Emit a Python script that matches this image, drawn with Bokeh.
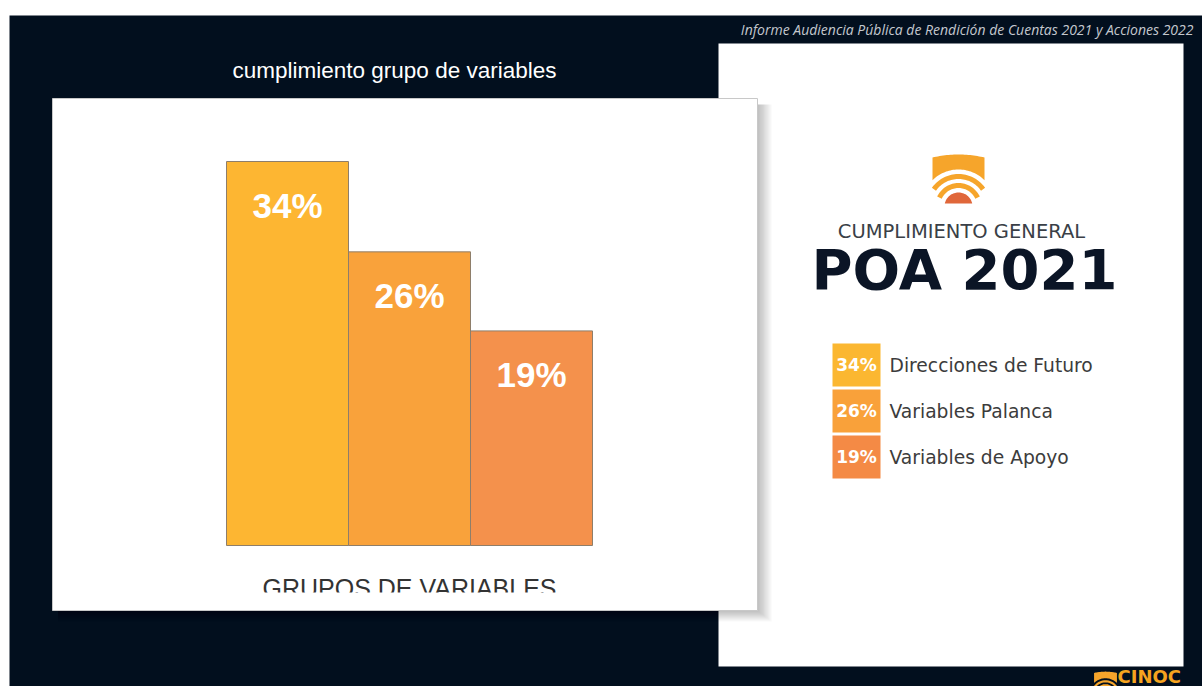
import numpy as np
from bokeh.plotting import figure
from bokeh.models import Range1d
from bokeh.core.properties import value
from bokeh.embed import file_html
from bokeh.resources import INLINE

# ---------------- data ----------------
categories = ["Direcciones de Futuro", "Variables Palanca", "Variables de Apoyo"]
values = [34, 26, 19]
bar_colors = ["#FDB632", "#F9A23B", "#F4914C"]
legend_colors = ["#FBB731", "#F9A13A", "#F48A45"]
title_text = "cumplimiento grupo de variables"
xaxis_label = "GRUPOS DE VARIABLES"
header_text = "Informe Audiencia Pública de Rendición de Cuentas 2021 y Acciones 2022"
subtitle = "CUMPLIMIENTO GENERAL"
big_title = "POA 2021"
brand = "CINOC"
pct_labels = [f"{v}%" for v in values]

# ---------------- layout (page pixels) ----------------
W, H = 1202, 686
X0, Y0 = 0, 0
DARK = "#020F1E"
BAR_LEFT, BAR_W = 226, 122
BASE_Y, PX_PER_PCT = 545, 384 / 34

p = figure(width=W, height=H, output_backend="svg", toolbar_location=None,
           x_range=Range1d(X0, X0 + W), y_range=Range1d(Y0 + H, Y0),
           x_axis_type=None, y_axis_type=None, min_border=0,
           background_fill_color="white", border_fill_color="white",
           outline_line_color=None)
p.xgrid.visible = False
p.ygrid.visible = False

p.extra_x_ranges = {"bx": Range1d((X0 - BAR_LEFT) / BAR_W, (X0 + W - BAR_LEFT) / BAR_W)}
p.extra_y_ranges = {"by": Range1d((BASE_Y - (Y0 + H)) / PX_PER_PCT, (BASE_Y - Y0) / PX_PER_PCT)}

# dark slide background
p.quad(left=[9], right=[X0 + W], top=[15], bottom=[Y0 + H], fill_color=DARK, line_color=None)

# header
p.text(x=[1193], y=[29], text=[header_text], text_align="right", text_baseline="middle",
       text_font=value("Open Sans"), text_font_style="italic", text_font_size="14px",
       text_color="#C4C8CE")

# right white panel
p.quad(left=[718], right=[1183], top=[43], bottom=[666], fill_color="white", line_color=None)

# card shadow
for k in range(12):
    p.quad(left=[58], right=[757 + 1.3 * k], top=[104], bottom=[610 + 1.0 * k],
           fill_color="black", fill_alpha=0.022, line_color=None)

# card
p.quad(left=[52], right=[757], top=[98], bottom=[610], fill_color="white",
       line_color="#C8C8C8", line_width=1)

# card title
p.text(x=[394], y=[70], text=[title_text], text_align="center", text_baseline="middle",
       text_font=value("Liberation Sans"), text_font_size="22.5px", text_color="white")

# bars
xs = [i + 0.5 for i in range(len(values))]
p.vbar(x=xs, width=1, bottom=0, top=values, x_range_name="bx", y_range_name="by",
       fill_color=bar_colors, line_color="#8E7E6A", line_width=1)
p.text(x=xs, y=values, text=pct_labels, x_range_name="bx", y_range_name="by",
       y_offset=44, text_align="center", text_baseline="middle",
       text_font=value("Liberation Sans"), text_font_style="bold",
       text_font_size="35px", text_color="white")

# axis label (clipped at bottom like in the reference)
p.text(x=[409], y=[587], text=[xaxis_label], text_align="center", text_baseline="middle",
       text_font=value("Liberation Sans"), text_font_size="25px", text_color="#333333")
p.quad(left=[53], right=[756], top=[592], bottom=[609], fill_color="white", line_color=None)


# ---------------- shield logo ----------------
def polar(cx, cy, r, t):
    return cx + r * np.cos(t), cy - r * np.sin(t)


def logo_shapes(cx, cy, s):
    shapes = []
    r = 14 * s
    t0 = np.arcsin(3 / 14)
    t = np.linspace(t0, np.pi - t0, 40)
    x, y = polar(cx, cy, r, t)
    shapes.append((list(x), list(y), "#E0673A"))
    for ri, ro, a1, a2 in [(18.5, 23.5, 25, 155), (27.5, 32.5, 35, 145)]:
        t = np.linspace(np.radians(a1), np.radians(a2), 40)
        xo, yo = polar(cx, cy, ro * s, t)
        xi, yi = polar(cx, cy, ri * s, t[::-1])
        shapes.append((list(xo) + list(xi), list(yo) + list(yi), "#F6A52B"))
    half = 26 * s
    rb = 37 * s
    yside = cy - np.sqrt(rb ** 2 - half ** 2)
    tt = np.linspace(-1, 1, 30)
    xt = cx + half * tt
    yt = cy - 52 * s + 3 * s * tt ** 2
    ta = np.arccos(half / rb)
    ts = np.linspace(ta, np.pi - ta, 40)
    xa, ya = polar(cx, cy, rb, ts)
    bx = list(xt) + [cx + half] + list(xa) + [cx - half]
    by = list(yt) + [yside] + list(ya) + [yside]
    shapes.append((bx, by, "#F6A52B"))
    return shapes


for sx, sy, c in logo_shapes(958, 206, 1.0):
    p.patch(x=sx, y=sy, fill_color=c, line_color=None)

p.text(x=[961], y=[231], text=[subtitle], text_align="center", text_baseline="middle",
       text_font=value("DejaVu Sans"), text_font_size="19.5px", text_color="#3A3F47")
p.text(x=[964], y=[269], text=[big_title], text_align="center", text_baseline="middle",
       text_font=value("DejaVu Sans"), text_font_style="bold", text_font_size="56px",
       text_color="#0B1526")

# legend
for i, (lab, name, col) in enumerate(zip(pct_labels, categories, legend_colors)):
    top = 343 + 46 * i
    p.quad(left=[832], right=[880], top=[top], bottom=[top + 43], fill_color=col, line_color=None)
    p.text(x=[856], y=[top + 21.5], text=[lab], text_align="center", text_baseline="middle",
           text_font=value("DejaVu Sans"), text_font_style="bold", text_font_size="17px",
           text_color="white")
    p.text(x=[889], y=[top + 21.5], text=[name], text_align="left", text_baseline="middle",
           text_font=value("DejaVu Sans"), text_font_size="18.7px", text_color="#3C3C3C")

# brand
for sx, sy, c in logo_shapes(1105, 694, 0.44):
    p.patch(x=sx, y=sy, fill_color="#F6A52B", line_color=None)
p.text(x=[1117], y=[676], text=[brand], text_align="left", text_baseline="middle",
       text_font=value("DejaVu Sans"), text_font_style="bold", text_font_size="18px",
       text_color="#F5A31F")

open("out.html", "w").write(file_html(p, INLINE))
